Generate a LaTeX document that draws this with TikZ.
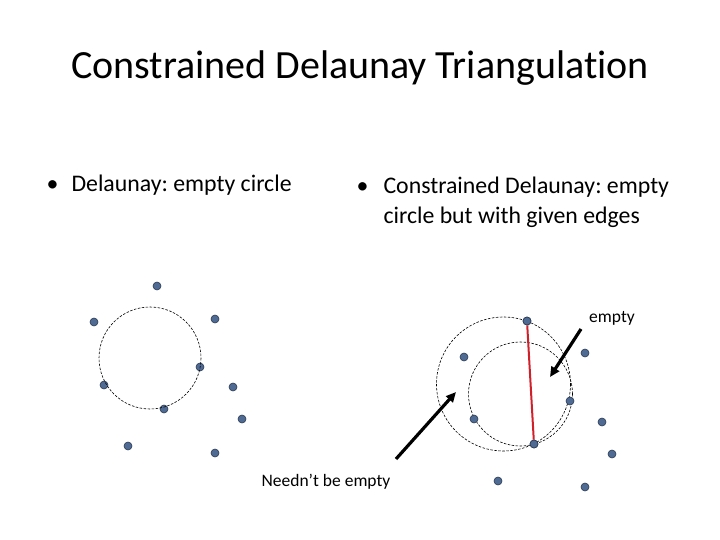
\documentclass[tikz,border=0pt]{standalone}
\usepackage{fontspec}
\setmainfont{Carlito}[Ligatures=NoCommon]
\usepackage{xcolor}
\usetikzlibrary{arrows.meta, positioning, calc}

\definecolor{dotblue}{HTML}{4F6B93}
\definecolor{dotline}{HTML}{2B3A52}
\definecolor{edgered}{HTML}{D0202A}

\frenchspacing

\begin{document}
\begin{tikzpicture}[
      x=1pt, y=-1pt,
      dotpt/.style={
          circle,
          draw=dotline,
          fill=dotblue,
          line width=0.6pt,
          inner sep=0pt,
          minimum size=8pt
      },
      titletext/.style={
          font=\fontsize{40}{44}\selectfont
      },
      bullettext/.style={
          font=\fontsize{23.8}{30}\selectfont,
          align=left,
          anchor=north west
      },
      labeltext/.style={
          font=\fontsize{17.5}{20}\selectfont
      },
      emptycircle/.style={dashed, line width=0.6pt, dash pattern=on 2.5pt off 1.5pt},
      bigarrow/.style={-{Triangle[length=10pt, width=9pt]}, line width=3.2pt}
  ]
      \useasboundingbox (0,0) rectangle (720,540);

      % --- Title and bullets ---
      \node[titletext] (title) at (360,68) {Constrained Delaunay Triangulation};
      \node[bullettext] (left_blt) at (43,171) {\makebox[25pt][l]{•}Delaunay: empty circle};
      \node[bullettext] (right_blt) at (353,173) {\makebox[27pt][l]{•}Constrained Delaunay: empty\\\hspace{27pt}circle but with given edges};

      % --- Left point set ---
      \node[dotpt] (l1) at (157,286) {};
      \node[dotpt] (l2) at (94,322) {};
      \node[dotpt] (l3) at (215,319) {};
      \node[dotpt] (l4) at (200,367) {};
      \node[dotpt] (l5) at (104,385) {};
      \node[dotpt] (l6) at (233,387) {};
      \node[dotpt] (l7) at (164,409) {};
      \node[dotpt] (l8) at (242,419) {};
      \node[dotpt] (l9) at (128,446) {};
      \node[dotpt] (l10) at (215,453) {};

      \draw[emptycircle] (150,358) circle[radius=51];

      % --- Right point set ---
      \draw[emptycircle] (503.5,384) circle[radius=67];
      \draw[emptycircle] (520.5,394) circle[radius=52];

      \node[dotpt] (r1) at (527,321) {};
      \node[dotpt] (r2) at (464,357) {};
      \node[dotpt] (r3) at (585,353) {};
      \node[dotpt] (r4) at (570,401) {};
      \node[dotpt] (r5) at (474,419) {};
      \node[dotpt] (r6) at (602,422) {};
      \node[dotpt] (r7) at (534,444) {};
      \node[dotpt] (r8) at (612,454) {};
      \node[dotpt] (r9) at (498,481) {};
      \node[dotpt] (r10) at (585,487) {};

      % --- Constrained edge ---
      \draw[edgered, line width=2pt] (r1) -- (r7);
      \node[dotpt] at (r1) {};
      \node[dotpt] at (r7) {};

      % --- Labels and arrows ---
      \node[labeltext] (empty_lbl) at (612,318) {empty};
      \node[labeltext] (needn_lbl) at (326,482) {Needn’t be empty};

      \coordinate (empty_from) at (581,329);
      \coordinate (empty_to) at (550,377);
      \coordinate (needn_from) at (396,459);
      \coordinate (needn_to) at (456,392);

      \draw[bigarrow] (empty_from) -- (empty_to);
      \draw[bigarrow] (needn_from) -- (needn_to);

  \end{tikzpicture}
\end{document}
